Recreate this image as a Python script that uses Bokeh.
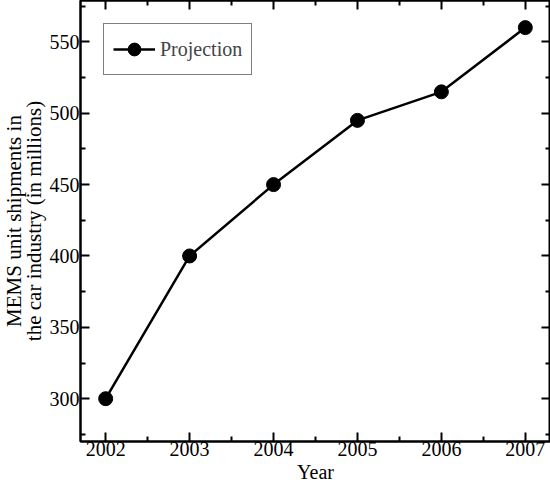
from bokeh.plotting import figure
from bokeh.models import FixedTicker, LinearAxis, Range1d, Legend, LegendItem, CustomJSTickFormatter, Title
from bokeh.embed import file_html
from bokeh.resources import INLINE

years = [2002, 2003, 2004, 2005, 2006, 2007]
shipments = [300, 400, 450, 495, 515, 560]
x_major = [2002, 2003, 2004, 2005, 2006, 2007]
x_minor = [2001.5, 2002.5, 2003.5, 2004.5, 2005.5, 2006.5, 2007.5]
y_major = [300, 350, 400, 450, 500, 550]
y_minor = [275, 325, 375, 425, 475, 525, 575]
x_title = "Year"
y_title = "MEMS unit shipments in\nthe car industry (in millions)"

FONT = "Liberation Serif"
FS = "20px"

W, H = 550, 482
p = figure(width=W, height=H, output_backend="svg", toolbar_location=None,
           x_range=Range1d(2001.7, 2007.3), y_range=Range1d(270, 579),
           min_border_left=0, min_border_right=0, min_border_top=0, min_border_bottom=0)
p.grid.visible = False
p.outline_line_color = "black"
p.outline_line_width = 2
p.background_fill_color = "white"
p.border_fill_color = "white"

def style(ax, ticks, minor, labels=True):
    ax.ticker = FixedTicker(ticks=ticks, minor_ticks=minor)
    ax.axis_line_width = 2
    ax.major_tick_line_width = 2
    ax.minor_tick_line_width = 2
    ax.major_tick_in = 9
    ax.major_tick_out = 0
    ax.minor_tick_in = 5
    ax.minor_tick_out = 0
    ax.major_label_text_font = FONT
    ax.major_label_text_font_size = FS
    ax.major_label_text_color = "black"
    ax.axis_label_standoff = 0
    if not labels:
        ax.formatter = CustomJSTickFormatter(code="return '';")
        ax.major_label_text_font_size = "0px"
        ax.major_label_standoff = 0

style(p.xaxis[0], x_major, x_minor)
style(p.yaxis[0], y_major, y_minor)
p.xaxis[0].major_label_standoff = 0
p.yaxis[0].major_label_standoff = 1

top = LinearAxis()
style(top, x_major, x_minor, labels=False)
p.add_layout(top, "above")
right = LinearAxis()
style(right, y_major, y_minor, labels=False)
p.add_layout(right, "right")

ln = p.line(years, shipments, line_color="black", line_width=2.5)
sc = p.scatter(years, shipments, size=14, marker="circle", fill_color="black", line_color="black")

legend = Legend(items=[LegendItem(label="Projection", renderers=[ln, sc])],
                location="top_left", border_line_color="black", border_line_width=1,
                label_text_font=FONT, label_text_font_size=FS,
                glyph_width=42, glyph_height=32, padding=9, margin=23,
                spacing=0, label_standoff=5, background_fill_alpha=1)
p.add_layout(legend)

p.add_layout(Title(text=x_title, align="center", standoff=0, offset=0,
                   text_font=FONT, text_font_size=FS, text_font_style="normal",
                   text_line_height=0.7, text_color="black"), "below")
p.add_layout(Title(text=y_title, align="center", standoff=0, offset=0,
                   text_font=FONT, text_font_size="21px", text_font_style="normal",
                   text_line_height=0.85, text_color="black", text_align="center"), "left")

open("out.html", "w").write(file_html(p, INLINE))
